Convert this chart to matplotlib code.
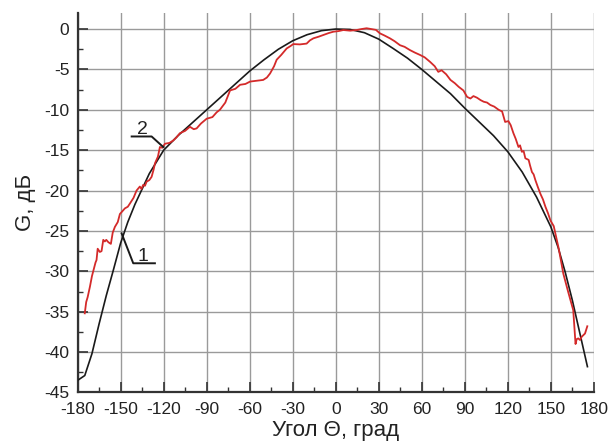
import matplotlib
matplotlib.use("Agg")
import matplotlib.pyplot as plt
from matplotlib.ticker import MultipleLocator

plt.rcParams['font.family'] = ['Liberation Sans', 'DejaVu Sans']
plt.rcParams['axes.unicode_minus'] = False

# кривая 1 - расчёт
theta_calc = [-180, -175, -170, -165, -160, -155, -150, -145, -140, -135, -130,
              -120, -110, -100, -90, -80, -70, -60, -50, -40, -30, -20, -10,
              0, 10, 20, 30, 40, 50, 60, 70, 80, 90, 100, 110, 120, 130, 140,
              150, 155, 160, 165, 170, 175.5]
g_calc = [-43.5, -42.9, -40.2, -36.5, -33.0, -29.8, -26.5, -23.9, -21.7, -19.8, -17.9,
          -15.0, -13.2, -11.6, -10.0, -8.4, -6.8, -5.2, -3.8, -2.5, -1.45, -0.7, -0.2,
          0.0, -0.05, -0.45, -1.25, -2.4, -3.6, -5.0, -6.5, -8.0, -9.8, -11.5, -13.2, -15.2, -17.7, -20.8,
          -24.5, -27.0, -30.1, -33.6, -37.5, -41.8]

# кривая 2 - измерение
theta_meas = [-175, -174, -173, -171.4, -170, -169, -167.5, -166.8, -166, -164.5, -163.3,
              -162.1, -161, -160, -158.5, -156.8, -155.5, -154, -152, -150.5, -149, -147,
              -145, -143.5, -141, -138.9, -136.6, -135.5, -134.3, -133, -131.9, -130, -128.4,
              -127, -126, -124, -122.6, -121, -119.1, -116, -113.3, -111, -108.7, -105,
              -101.7, -99, -97, -94, -90, -86, -83, -80.8, -77, -73.7, -70, -66.7, -63,
              -59.7, -55, -50.6, -48, -45.8, -43, -41.2, -38, -34.2, -31.5, -29.6, -25,
              -20.3, -18, -15.6, -12, -8.7, -5, -1.7, 2, 5.3, 10, 14.6, 18, 21.5, 26.1,
              28, 30.8, 34, 37.8, 41, 44.8, 48, 51.7, 55, 58.7, 62, 65.7, 69, 71.5, 73.8,
              77, 80, 83, 85.7, 89, 91.6, 93.9, 96, 98.5, 101, 103.2, 105.5, 107.8, 110.5,
              113.6, 116, 118.1, 120.4, 122, 123.9, 125.5, 127.4, 128.5, 129.8, 131, 132.2,
              134.5, 135.5, 136.8, 138, 139.2, 141, 142.7, 144.5, 146.2, 148, 149.7, 152,
              155.5, 158.7, 162, 165.6, 166.8, 167.2, 168, 169.1, 170.3, 171.5, 172.7,
              173.8, 175.4]
g_meas = [-35.2, -33.8, -33.2, -31.9, -30.6, -29.9, -28.9, -28.6, -27.2, -27.6, -27.5,
          -26.1, -26.3, -26.1, -26.4, -26.6, -25.2, -24.5, -23.9, -22.9, -22.6, -22.2,
          -22.0, -21.6, -20.9, -20.0, -19.5, -19.8, -19.3, -19.4, -18.9, -18.7, -18.3,
          -17.4, -16.6, -15.8, -14.6, -14.7, -14.2, -14.1, -13.8, -13.4, -12.9, -12.6,
          -12.1, -12.4, -12.3, -11.7, -11.1, -10.9, -10.3, -10.0, -9.1, -7.6, -7.4, -6.9, -6.8,
          -6.5, -6.4, -6.3, -6.0, -5.5, -4.6, -3.8, -3.2, -2.4, -2.1, -1.86, -1.9,
          -1.8, -1.4, -1.15, -0.95, -0.74, -0.5, -0.33, -0.25, -0.12, -0.2, -0.12, 0.0, 0.1, -0.04,
          -0.1, -0.53, -0.8, -1.15, -1.5, -2.0, -2.2, -2.6, -2.9, -3.2, -3.5, -4.05, -4.6, -5.3, -5.1,
          -5.6, -6.3, -6.7, -7.15, -7.6, -8.4, -8.6, -8.3, -8.5, -8.8, -9.0, -9.1, -9.4, -9.6,
          -10.0, -10.2, -11.5, -11.4, -11.9, -12.9, -13.6, -14.6, -14.4, -15.2, -15.1, -16.0,
          -16.2, -16.9, -17.7, -18.0, -18.7, -19.6, -20.4, -21.1, -22.0, -22.8, -23.7, -24.4,
          -27.2, -30.3, -32.5, -34.8, -38.1, -39.0, -38.4, -38.3, -38.5, -38.1, -37.9,
          -37.7, -36.8]

x_ticks = [-180, -150, -120, -90, -60, -30, 0, 30, 60, 90, 120, 150, 180]
y_ticks = [0, -5, -10, -15, -20, -25, -30, -35, -40, -45]

fig = plt.figure(figsize=(6.11, 4.45), dpi=100)
ax = fig.add_axes([0.127, 0.118, 0.845, 0.853])

ax.plot(theta_calc, g_calc, color='#1a1a1a', lw=1.2, zorder=3)
ax.plot(theta_meas, g_meas, color='#d42a2a', lw=1.3, zorder=4)

ax.set_xlim(-180, 180)
ax.set_ylim(-45, 2)
ax.set_xticks(x_ticks)
ax.set_yticks(y_ticks)
ax.xaxis.set_minor_locator(MultipleLocator(15))
ax.yaxis.set_minor_locator(MultipleLocator(2.5))
ax.grid(True, which='major', color='#9a9a9a', lw=1.0)
ax.set_axisbelow(True)

for s in ['top', 'right']:
    ax.spines[s].set_visible(False)
for s in ['left', 'bottom']:
    ax.spines[s].set_linewidth(1.6)
    ax.spines[s].set_color('#333333')

ax.tick_params(which='major', direction='in', length=7, width=1.2, labelsize=12.5,
               colors='#333333', labelcolor='#222222')
ax.tick_params(which='minor', direction='in', length=3.5, width=1.0, colors='#333333')
ax.tick_params(axis='x', pad=7)
ax.tick_params(axis='y', pad=6)

ax.set_xlabel('Угол Θ, град', fontsize=16, color='#222222', labelpad=2)
ax.set_ylabel('G, дБ', fontsize=16, color='#222222', labelpad=6)

# выноски
ax.plot([-142.3, -128.4, -120.3], [-13.3, -13.3, -14.6], color='#1a1a1a', lw=1.4, zorder=5)
ax.text(-134.8, -13.5, '2', fontsize=14, ha='center', va='bottom', color='#222222')
ax.plot([-149.3, -141.2, -126.1], [-25.3, -29.0, -29.0], color='#1a1a1a', lw=1.4, zorder=5)
ax.text(-134.2, -29.2, '1', fontsize=14, ha='center', va='bottom', color='#222222')

fig.savefig('out.png', dpi=100)
